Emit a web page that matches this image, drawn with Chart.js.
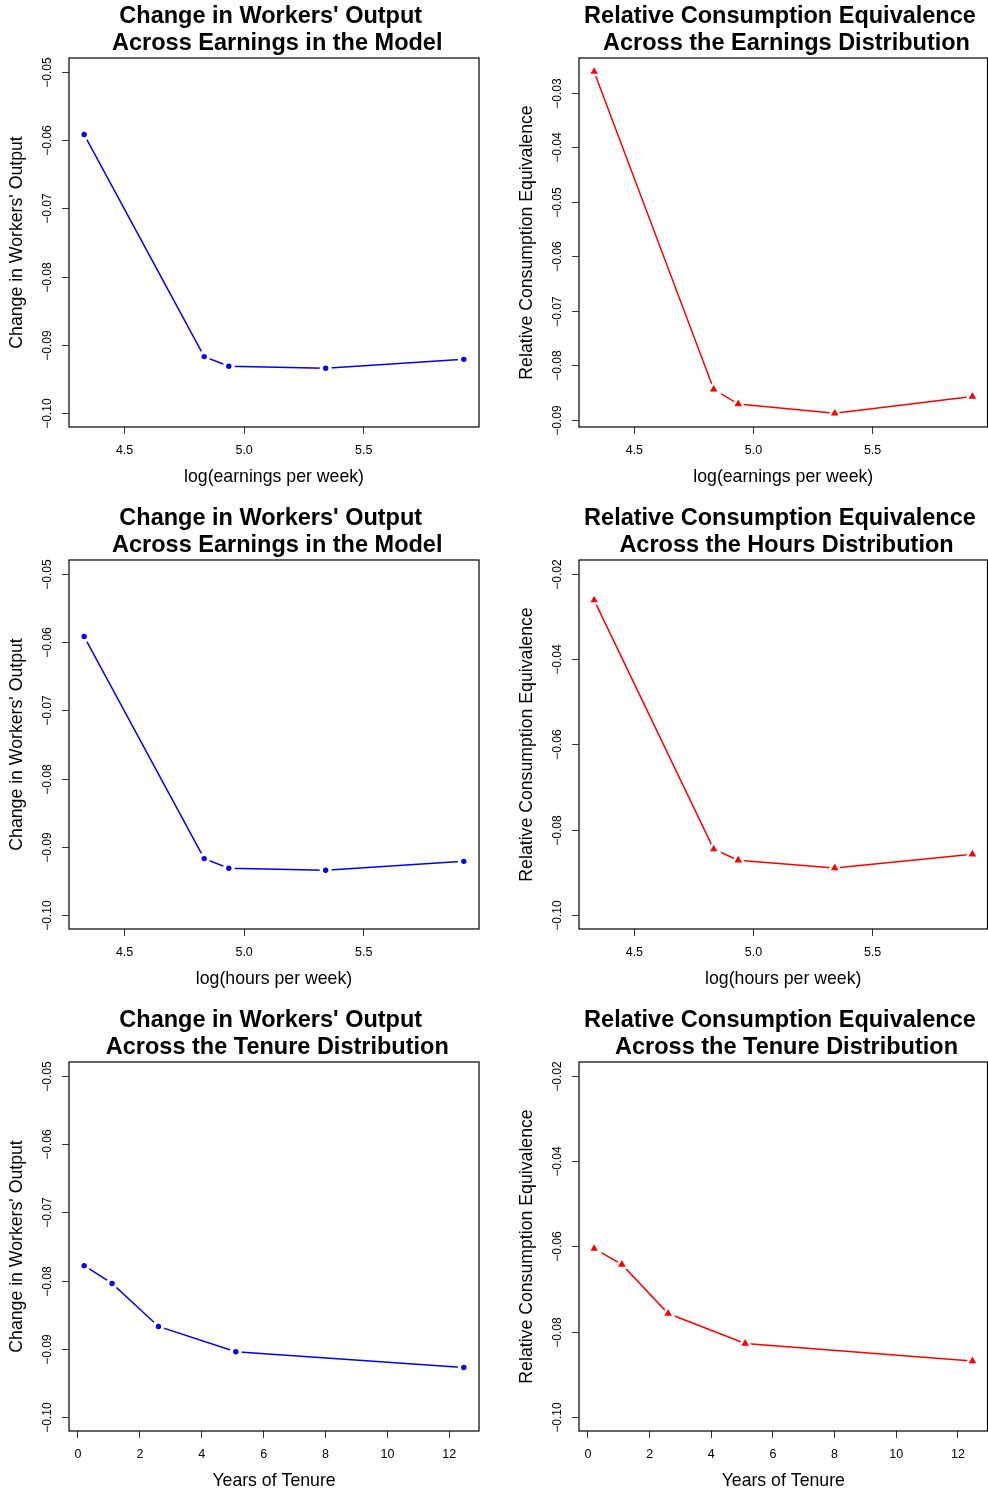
<!DOCTYPE html>
<html>
<head>
<meta charset="utf-8">
<title>Change in Workers' Output and Relative Consumption Equivalence</title>
<script src="https://cdn.jsdelivr.net/npm/chart.js@4.4.1/dist/chart.umd.min.js"></script>
<style>
html, body { margin: 0; padding: 0; background: #fff; overflow: hidden; width: 988px; height: 1489px; }
.panel { position: absolute; width: 510px; height: 502px; }
</style>
</head>
<body>
<div class="panel" style="left:0px;top:0px"><canvas id="KPI1a" width="510" height="502"></canvas></div>
<div class="panel" style="left:510px;top:0px"><canvas id="KPI1b" width="510" height="502"></canvas></div>
<div class="panel" style="left:0px;top:502px"><canvas id="KPI2a" width="510" height="502"></canvas></div>
<div class="panel" style="left:510px;top:502px"><canvas id="KPI2b" width="510" height="502"></canvas></div>
<div class="panel" style="left:0px;top:1004px"><canvas id="KPI3a" width="510" height="502"></canvas></div>
<div class="panel" style="left:510px;top:1004px"><canvas id="KPI3b" width="510" height="502"></canvas></div>
<script>
// x values of the points
const earningsX = [4.331, 4.833, 4.936, 5.341, 5.919];
const hoursX    = [4.331, 4.833, 4.936, 5.341, 5.919];
const tenureX   = [0.2, 1.1, 2.6, 5.1, 12.47];

// y values
const outputByEarnings = [-0.0592, -0.0917, -0.0931, -0.0934, -0.0921];
const ceByEarnings     = [-0.0261, -0.0844, -0.0871, -0.0888, -0.0857];
const outputByHours    = [-0.0592, -0.0917, -0.0931, -0.0934, -0.0921];
const ceByHours        = [-0.0262, -0.0845, -0.0871, -0.0889, -0.0857];
const outputByTenure   = [-0.0778, -0.0804, -0.0867, -0.0904, -0.0927];
const ceByTenure       = [-0.0605, -0.0642, -0.0757, -0.0827, -0.0868];

// tick labels
const logTicks    = [4.5, 5.0, 5.5];
const tenureTicks = [0, 2, 4, 6, 8, 10, 12];
const outputTicks = [-0.10, -0.09, -0.08, -0.07, -0.06, -0.05];
const ceEarnTicks = [-0.09, -0.08, -0.07, -0.06, -0.05, -0.04, -0.03];
const ceTicks     = [-0.10, -0.08, -0.06, -0.04, -0.02];

const FONT = '"Liberation Sans", Arial, Helvetica, sans-serif';
Chart.defaults.font.family = FONT;
Chart.defaults.color = '#000';

// R pads the data range by 4% on each side
function rRange(lo, hi) {
    const d = (hi - lo) * 0.04;
    return [lo - d, hi + d];
}

function fmtY(v) {
    return (v < 0 ? '\u2212' : '') + Math.abs(v).toFixed(2);
}

// box, y ticks (rotated like R) and y title
const rAxes = {
    id: 'rAxes',
    afterDraw(chart, args, opts) {
        const ctx = chart.ctx;
        const a = chart.chartArea;
        const y = chart.scales.y;
        ctx.save();
        ctx.strokeStyle = '#000';
        ctx.lineWidth = 1.2;
        ctx.strokeRect(a.left, a.top, a.right - a.left, a.bottom - a.top);

        ctx.strokeStyle = '#333';
        ctx.lineWidth = 1;
        ctx.fillStyle = '#000';
        ctx.font = '12px ' + FONT;
        ctx.textAlign = 'center';
        ctx.textBaseline = 'middle';
        y.ticks.forEach(t => {
            const py = Math.round(y.getPixelForValue(t.value)) + 0.5;
            ctx.beginPath();
            ctx.moveTo(a.left - 7, py);
            ctx.lineTo(a.left, py);
            ctx.stroke();
            ctx.save();
            ctx.translate(a.left - 21, py);
            ctx.rotate(-Math.PI / 2);
            ctx.fillText(fmtY(t.value), 0, 0);
            ctx.restore();
        });

        ctx.save();
        ctx.translate(a.left - 51.5, (a.top + a.bottom) / 2);
        ctx.rotate(-Math.PI / 2);
        ctx.font = '17.7px ' + FONT;
        ctx.fillText(opts.yTitle, 0, 0);
        ctx.restore();
        ctx.restore();
    }
};

function makePanel(id, cfg) {
    const ctx = document.getElementById(id).getContext('2d');
    const points = cfg.x.map((v, i) => ({x: v, y: cfg.y[i]}));
    const xr = rRange(Math.min(...cfg.x), Math.max(...cfg.x));
    const yr = cfg.ylim ? rRange(cfg.ylim[0], cfg.ylim[1]) : rRange(Math.min(...cfg.y), Math.max(...cfg.y));
    const tri = cfg.marker === 'triangle';
    return new Chart(ctx, {
        type: 'line',
        data: {
            datasets: [{
                data: points,
                borderColor: cfg.color,
                borderWidth: 1.5,
                backgroundColor: cfg.color,
                pointStyle: tri ? 'triangle' : 'circle',
                pointRadius: tri ? 6.8 : 4.35,
                pointBorderWidth: tri ? 2.4 : 3.3,
                pointBorderColor: '#fff',
                pointBackgroundColor: cfg.color,
                tension: 0
            }]
        },
        options: {
            responsive: false,
            animation: false,
            devicePixelRatio: 1,
            events: [],
            layout: {
                padding: {left: 69, right: tri ? 32.5 : 31, top: 0, bottom: 12.36}
            },
            scales: {
                x: {
                    type: 'linear',
                    min: xr[0],
                    max: xr[1],
                    afterBuildTicks: s => { s.ticks = cfg.xTicks.map(v => ({value: v})); },
                    grid: {display: true, drawOnChartArea: false, drawTicks: true, tickLength: 7, color: '#333', lineWidth: 1},
                    border: {display: false},
                    ticks: {
                        font: {size: 12.5},
                        color: '#000',
                        padding: 8.7,
                        maxRotation: 0,
                        autoSkip: false,
                        callback: v => cfg.xDigits ? v.toFixed(cfg.xDigits) : String(v)
                    },
                    title: {
                        display: true,
                        text: cfg.xTitle,
                        font: {size: 17.7},
                        color: '#000',
                        padding: {top: 0, bottom: 2}
                    }
                },
                y: {
                    type: 'linear',
                    min: yr[0],
                    max: yr[1],
                    afterBuildTicks: s => { s.ticks = cfg.yTicks.map(v => ({value: v})); },
                    grid: {display: false, drawTicks: false, tickLength: 0},
                    border: {display: false},
                    ticks: {display: false, padding: 0},
                    title: {display: false}
                }
            },
            plugins: {
                legend: {display: false},
                tooltip: {enabled: false},
                title: {
                    display: true,
                    text: cfg.title,
                    color: '#000',
                    font: {size: 23.5, weight: 'bold', lineHeight: 1.17},
                    padding: {top: 2.5, bottom: 0.5}
                },
                rAxes: {yTitle: cfg.yTitle}
            }
        },
        plugins: [rAxes]
    });
}

// chart 1a - output by earnings
const Chart1a = makePanel('KPI1a', {
    title: ["Change in Workers' Output ", ' Across Earnings in the Model'],
    x: earningsX, y: outputByEarnings, ylim: [-0.10, -0.05],
    xTicks: logTicks, xDigits: 1, yTicks: outputTicks,
    xTitle: 'log(earnings per week)', yTitle: "Change in Workers' Output",
    color: '#0000FF', marker: 'circle'
});

// chart 1b - consumption equivalence by earnings
const Chart1b = makePanel('KPI1b', {
    title: ['Relative Consumption Equivalence ', ' Across the Earnings Distribution'],
    x: earningsX, y: ceByEarnings, ylim: null,
    xTicks: logTicks, xDigits: 1, yTicks: ceEarnTicks,
    xTitle: 'log(earnings per week)', yTitle: 'Relative Consumption Equivalence',
    color: '#FF0000', marker: 'triangle'
});

// chart 2a - output by hours
const Chart2a = makePanel('KPI2a', {
    title: ["Change in Workers' Output ", ' Across Earnings in the Model'],
    x: hoursX, y: outputByHours, ylim: [-0.10, -0.05],
    xTicks: logTicks, xDigits: 1, yTicks: outputTicks,
    xTitle: 'log(hours per week)', yTitle: "Change in Workers' Output",
    color: '#0000FF', marker: 'circle'
});

// chart 2b - consumption equivalence by hours
const Chart2b = makePanel('KPI2b', {
    title: ['Relative Consumption Equivalence ', ' Across the Hours Distribution'],
    x: hoursX, y: ceByHours, ylim: [-0.10, -0.02],
    xTicks: logTicks, xDigits: 1, yTicks: ceTicks,
    xTitle: 'log(hours per week)', yTitle: 'Relative Consumption Equivalence',
    color: '#FF0000', marker: 'triangle'
});

// chart 3a - output by tenure
const Chart3a = makePanel('KPI3a', {
    title: ["Change in Workers' Output ", ' Across the Tenure Distribution'],
    x: tenureX, y: outputByTenure, ylim: [-0.10, -0.05],
    xTicks: tenureTicks, xDigits: 0, yTicks: outputTicks,
    xTitle: 'Years of Tenure', yTitle: "Change in Workers' Output",
    color: '#0000FF', marker: 'circle'
});

// chart 3b - consumption equivalence by tenure
const Chart3b = makePanel('KPI3b', {
    title: ['Relative Consumption Equivalence ', ' Across the Tenure Distribution'],
    x: tenureX, y: ceByTenure, ylim: [-0.10, -0.02],
    xTicks: tenureTicks, xDigits: 0, yTicks: ceTicks,
    xTitle: 'Years of Tenure', yTitle: 'Relative Consumption Equivalence',
    color: '#FF0000', marker: 'triangle'
});
</script>
</body>
</html>
